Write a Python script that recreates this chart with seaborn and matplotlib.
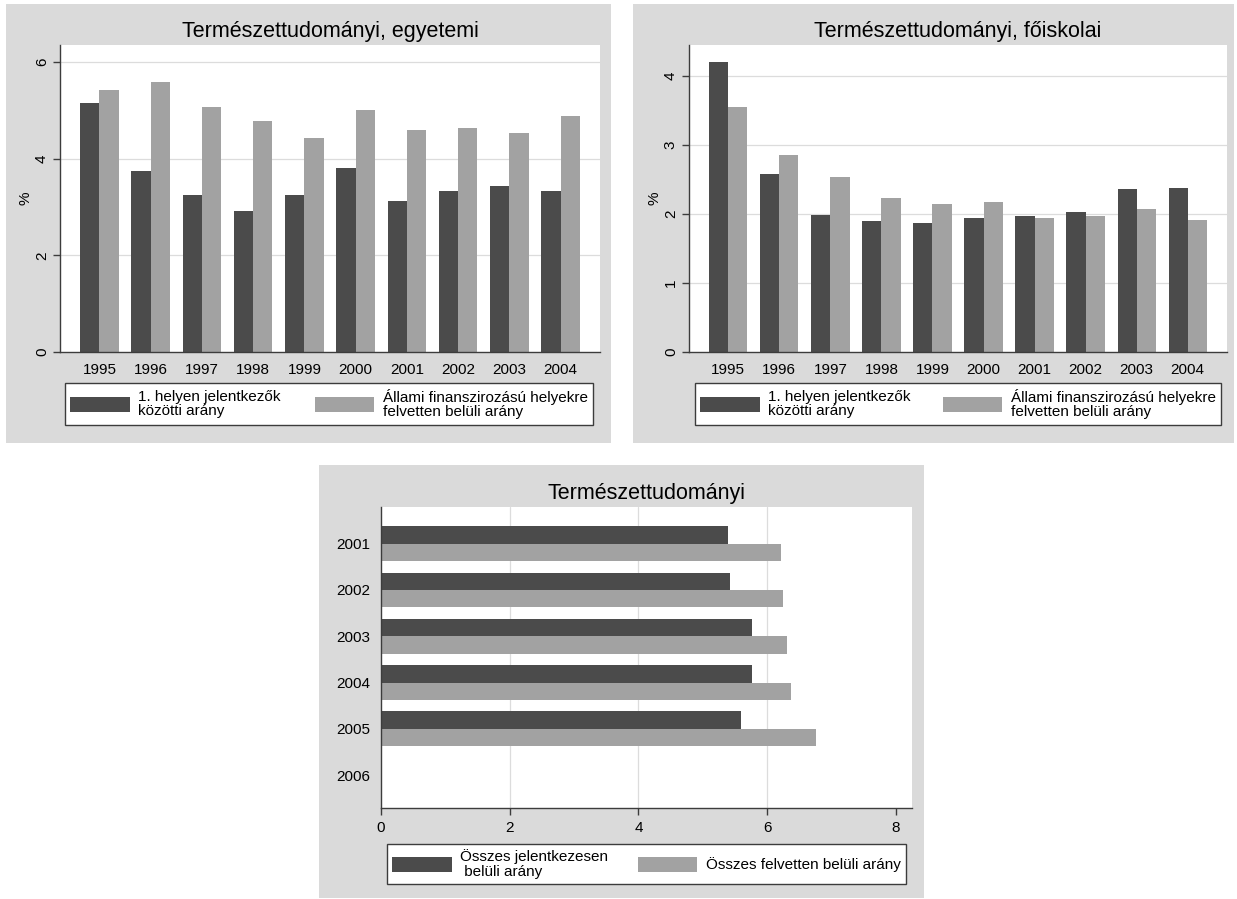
import matplotlib
matplotlib.use("Agg")
import matplotlib.pyplot as plt
from matplotlib.patches import Rectangle, Patch
import seaborn as sns
import pandas as pd

# ---- data -------------------------------------------------------------
years_top = ["1995", "1996", "1997", "1998", "1999",
             "2000", "2001", "2002", "2003", "2004"]

egyetemi_first = [5.16, 3.75, 3.25, 2.92, 3.25, 3.81, 3.13, 3.32, 3.43, 3.33]
egyetemi_state = [5.42, 5.58, 5.06, 4.78, 4.42, 5.01, 4.60, 4.63, 4.53, 4.88]

foiskolai_first = [4.21, 2.58, 1.98, 1.90, 1.87, 1.94, 1.97, 2.03, 2.36, 2.37]
foiskolai_state = [3.55, 2.86, 2.54, 2.23, 2.15, 2.17, 1.94, 1.97, 2.08, 1.92]

years_bottom = ["2001", "2002", "2003", "2004", "2005", "2006"]
osszes_jelentkezes = [5.39, 5.42, 5.77, 5.77, 5.59]
osszes_felvett = [6.21, 6.25, 6.31, 6.37, 6.76]

top_labels = ["1. helyen jelentkezők\nközötti arány",
              "Állami finanszirozású helyekre\nfelvetten belüli arány"]
bottom_labels = ["Összes jelentkezesen\n belüli arány",
                 "Összes felvetten belüli arány"]

titles = ["Természettudományi, egyetemi",
          "Természettudományi, főiskolai",
          "Természettudományi"]

# ---- style --------------------------------------------------------------
sns.set_style("white")
plt.rcParams["font.family"] = ["Liberation Sans", "DejaVu Sans"]
plt.rcParams["text.color"] = "black"
plt.rcParams["axes.labelcolor"] = "black"
plt.rcParams["xtick.color"] = "black"
plt.rcParams["ytick.color"] = "black"

DARK = "#4b4b4b"
LIGHT = "#a2a2a2"
PANEL = "#dadada"
AXIS = "#3c3c3c"
GRID = "#dcdcdc"
FS = 11

W, H = 1237, 899
fig = plt.figure(figsize=(W / 100, H / 100), dpi=100)
fig.patch.set_facecolor("white")


def frac(x0, y0, x1, y1):
    return [x0 / W, 1 - y1 / H, (x1 - x0) / W, (y1 - y0) / H]


# grey panel backgrounds, kept underneath the axes
for x0, y0, x1, y1 in [(6, 4, 611, 443), (633, 4, 1234, 443), (319, 465, 924, 898)]:
    r = frac(x0, y0, x1, y1)
    fig.patches.append(Rectangle((r[0], r[1]), r[2], r[3], transform=fig.transFigure,
                                 facecolor=PANEL, edgecolor="none", zorder=-10))


def long_frame(cats, a, b, names):
    return pd.DataFrame({
        "cat": list(cats[:len(a)]) + list(cats[:len(b)]),
        "value": list(a) + list(b),
        "series": [names[0]] * len(a) + [names[1]] * len(b),
    })


def style_axes(ax):
    ax.set_facecolor("white")
    for s in ["top", "right"]:
        ax.spines[s].set_visible(False)
    for s in ["left", "bottom"]:
        ax.spines[s].set_color(AXIS)
        ax.spines[s].set_linewidth(1.0)


def add_legend(ax, labels, box):
    handles = [Patch(facecolor=DARK, edgecolor="none"),
               Patch(facecolor=LIGHT, edgecolor="none")]
    r = frac(*box)
    leg = ax.legend(handles, labels, loc="center", bbox_to_anchor=r,
                    bbox_transform=fig.transFigure, mode="expand", ncol=2,
                    fontsize=FS, handlelength=3.9, handleheight=1.1,
                    handletextpad=0.55, borderpad=0.35, borderaxespad=0,
                    labelspacing=0.2, fancybox=False, framealpha=1,
                    edgecolor=AXIS, frameon=True)
    leg.get_frame().set_linewidth(1.0)
    for t in leg.get_texts():
        t.set_linespacing(1.05)
        t.set_color("black")
    return leg


def vertical_panel(rect, first, state, title, ylim, yticks, legend_box):
    ax = fig.add_axes(frac(*rect))
    df = long_frame(years_top, first, state, top_labels)
    sns.barplot(data=df, x="cat", y="value", hue="series", order=years_top,
                hue_order=top_labels, palette=[DARK, LIGHT], width=0.75,
                saturation=1, legend=False, linewidth=0, edgecolor="none",
                ax=ax, zorder=2)
    style_axes(ax)
    ax.set_xlim(-0.77, 9.77)
    ax.set_ylim(*ylim)
    ax.set_yticks(yticks)
    for t in yticks[1:]:
        ax.axhline(t, color=GRID, lw=0.9, zorder=1)
    ax.set_xlabel("")
    ax.set_ylabel("%", fontsize=FS, labelpad=2)
    ax.tick_params(axis="x", length=0, pad=8, labelsize=FS)
    ax.tick_params(axis="y", length=5, width=1, color=AXIS, labelcolor="black",
                   pad=3, labelsize=FS, direction="out", left=True)
    for lab in ax.get_yticklabels():
        lab.set_rotation(90)
        lab.set_va("center")
    ax.set_title(title, fontsize=15.5, pad=6, color="black")
    add_legend(ax, top_labels, legend_box)
    return ax


vertical_panel((60, 45, 600, 352), egyetemi_first, egyetemi_state, titles[0],
               (0, 6.35), [0, 2, 4, 6], (65, 382, 593, 426))
vertical_panel((689, 45, 1227, 352), foiskolai_first, foiskolai_state, titles[1],
               (0, 4.45), [0, 1, 2, 3, 4], (695, 383, 1221, 425))

# ---- horizontal panel --------------------------------------------------------
ax3 = fig.add_axes(frac(381, 507, 912, 808))
df3 = long_frame(years_bottom, osszes_jelentkezes, osszes_felvett, bottom_labels)
sns.barplot(data=df3, y="cat", x="value", hue="series", order=years_bottom,
            hue_order=bottom_labels, palette=[DARK, LIGHT], width=0.75,
            saturation=1, legend=False, orient="h", linewidth=0,
            edgecolor="none", ax=ax3, zorder=2)
style_axes(ax3)
ax3.set_xlim(0, 8.25)
ax3.set_ylim(5.71, -0.79)
ax3.set_xticks([0, 2, 4, 6, 8])
for t in [2, 4, 6]:
    ax3.axvline(t, color=GRID, lw=0.9, zorder=1)
ax3.set_xlabel("")
ax3.set_ylabel("")
ax3.tick_params(axis="y", length=0, pad=8, labelsize=FS)
ax3.tick_params(axis="x", length=5, width=1, color=AXIS, labelcolor="black",
                pad=4, labelsize=FS, direction="out", bottom=True)
ax3.set_title(titles[2], fontsize=15.5, pad=6, color="black")
add_legend(ax3, bottom_labels, (387, 843, 906, 885))

fig.savefig("out.png", dpi=100, facecolor="white")
